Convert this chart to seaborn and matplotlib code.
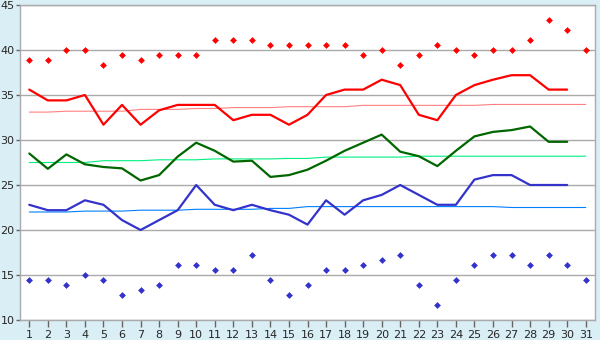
import numpy as np
import pandas as pd
import matplotlib
matplotlib.use("Agg")
import matplotlib.pyplot as plt
import seaborn as sns

# Daily temperatures (°C), one month
days = list(range(1, 32))

record_max = [38.9, 38.9, 40.0, 40.0, 38.3, 39.4, 38.9, 39.4, 39.4, 39.4,
              41.1, 41.1, 41.1, 40.6, 40.6, 40.6, 40.6, 40.6, 39.4, 40.0,
              38.3, 39.4, 40.6, 40.0, 39.4, 40.0, 40.0, 41.1, 43.3, 42.2, 40.0]

avg_max = [35.6, 34.4, 34.4, 35.0, 31.7, 33.9, 31.7, 33.3, 33.9, 33.9,
           33.9, 32.2, 32.8, 32.8, 31.7, 32.8, 35.0, 35.6, 35.6, 36.7,
           36.1, 32.8, 32.2, 35.0, 36.1, 36.7, 37.2, 37.2, 35.6, 35.6, None]

normal_max = [33.1, 33.1, 33.2, 33.2, 33.2, 33.2, 33.4, 33.4, 33.4, 33.5,
              33.5, 33.6, 33.6, 33.6, 33.7, 33.7, 33.7, 33.7, 33.85, 33.85,
              33.85, 33.85, 33.85, 33.85, 33.85, 33.95, 33.95, 33.95, 33.95, 33.95, 33.95]

avg_mean = [28.5, 26.8, 28.4, 27.3, 27.0, 26.85, 25.5, 26.1, 28.15, 29.7,
            28.8, 27.6, 27.7, 25.9, 26.1, 26.7, 27.7, 28.8, 29.7, 30.6,
            28.7, 28.2, 27.1, 28.8, 30.4, 30.9, 31.1, 31.5, 29.8, 29.8, None]

normal_mean = [27.5, 27.5, 27.5, 27.5, 27.7, 27.7, 27.7, 27.8, 27.8, 27.8,
               27.9, 27.9, 27.9, 27.9, 27.95, 27.95, 28.1, 28.1, 28.1, 28.1,
               28.1, 28.2, 28.2, 28.2, 28.2, 28.2, 28.2, 28.2, 28.2, 28.2, 28.2]

avg_min = [22.8, 22.2, 22.2, 23.3, 22.8, 21.1, 20.0, 21.1, 22.2, 25.0,
           22.8, 22.2, 22.8, 22.2, 21.7, 20.6, 23.3, 21.7, 23.3, 23.9,
           25.0, 23.9, 22.8, 22.8, 25.6, 26.1, 26.1, 25.0, 25.0, 25.0, None]

normal_min = [22.0, 22.0, 22.0, 22.1, 22.1, 22.1, 22.2, 22.2, 22.2, 22.3,
              22.3, 22.3, 22.3, 22.4, 22.4, 22.6, 22.6, 22.6, 22.6, 22.6,
              22.6, 22.6, 22.6, 22.6, 22.6, 22.6, 22.5, 22.5, 22.5, 22.5, 22.5]

record_min = [14.4, 14.4, 13.9, 15.0, 14.4, 12.8, 13.3, 13.9, 16.1, 16.1,
              15.6, 15.6, 17.2, 14.4, 12.8, 13.9, 15.6, 15.6, 16.1, 16.7,
              17.2, 13.9, 11.7, 14.4, 16.1, 17.2, 17.2, 16.1, 17.2, 16.1, 14.4]

df = pd.DataFrame({
    "day": days,
    "record_max": record_max,
    "avg_max": pd.array(avg_max, dtype="Float64").astype(float),
    "normal_max": normal_max,
    "avg_mean": pd.array(avg_mean, dtype="Float64").astype(float),
    "normal_mean": normal_mean,
    "avg_min": pd.array(avg_min, dtype="Float64").astype(float),
    "normal_min": normal_min,
    "record_min": record_min,
})

sns.set_style("white")
plt.rcParams["font.family"] = ["DejaVu Sans"]

bg = "#daeef5"
grid_col = "#aaaaaa"

fig = plt.figure(figsize=(6, 3.4), dpi=100, facecolor=bg)
ax = fig.add_axes([20 / 600, 1 - 320 / 340, 575 / 600, 315 / 340])
ax.set_facecolor("white")

# normal lines (thin)
sns.lineplot(data=df, x="day", y="normal_max", color="#ff8080", lw=0.8, ax=ax)
sns.lineplot(data=df, x="day", y="normal_mean", color="#00f080", lw=0.8, ax=ax)
sns.lineplot(data=df, x="day", y="normal_min", color="#0080ff", lw=0.8, ax=ax)

# observed lines (thick)
sns.lineplot(data=df, x="day", y="avg_max", color="#ff0000", lw=1.6, ax=ax)
sns.lineplot(data=df, x="day", y="avg_mean", color="#006600", lw=1.6, ax=ax)
sns.lineplot(data=df, x="day", y="avg_min", color="#3333cc", lw=1.6, ax=ax)

# extremes as markers
sns.scatterplot(data=df, x="day", y="record_max", color="#ff0000", marker="D",
                s=12, linewidth=0, ax=ax)
sns.scatterplot(data=df, x="day", y="record_min", color="#3333cc", marker="D",
                s=12, linewidth=0, ax=ax)

ax.set_xlim(0.5, 31.5)
ax.set_ylim(10, 45)
ax.set_xticks(days)
ax.set_yticks(range(10, 46, 5))
ax.set_xlabel("")
ax.set_ylabel("")
ax.grid(axis="y", color=grid_col, lw=1)
ax.set_axisbelow(True)
for s in ax.spines.values():
    s.set_color(grid_col)
    s.set_linewidth(1)
ax.tick_params(axis="x", direction="out", length=5, width=1, color="#666666",
               labelsize=8, pad=2, bottom=True)
ax.tick_params(axis="y", direction="out", length=3, width=1, color="#666666",
               labelsize=8, pad=1, left=True)

fig.savefig("out.png", dpi=100, facecolor=bg)
